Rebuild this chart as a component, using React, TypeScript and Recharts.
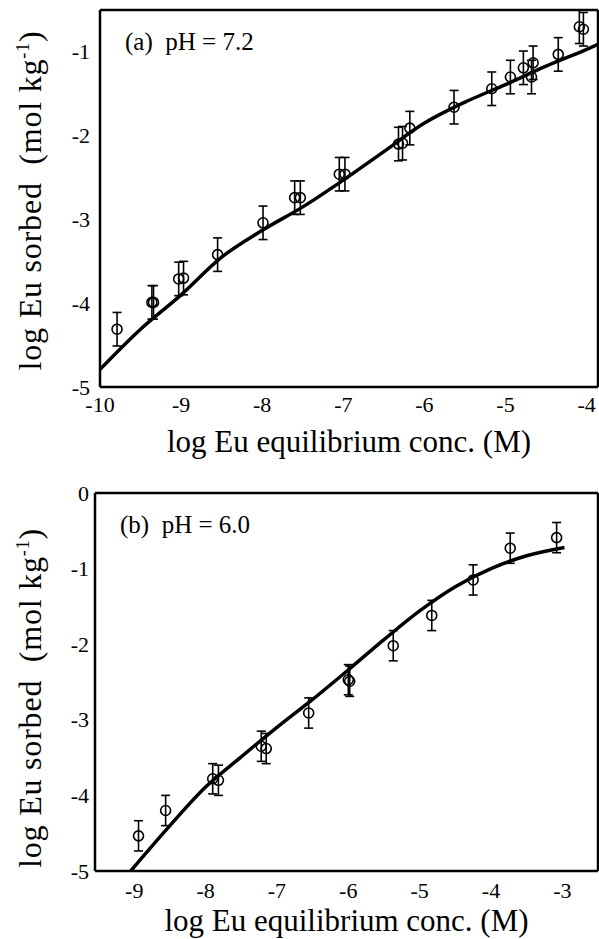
import { ComposedChart, Line, Scatter, ErrorBar, XAxis, YAxis, Label } from 'recharts';

const FONT = '"Liberation Serif", "Times New Roman", Times, serif';

// (a) pH = 7.2 — measured points
const concA = [-9.79, -9.36, -9.34, -9.03, -8.97, -8.55, -7.99, -7.6, -7.53, -7.05, -6.98, -6.32, -6.27, -6.18, -5.635, -5.17, -4.94, -4.78, -4.66, -4.68, -4.35, -4.09, -4.04];
const sorbedA = [-4.31, -3.99, -3.99, -3.71, -3.7, -3.42, -3.04, -2.74, -2.74, -2.46, -2.46, -2.1, -2.09, -1.91, -1.66, -1.44, -1.3, -1.19, -1.13, -1.3, -1.03, -0.7, -0.73];
const errA = [0.2, 0.2, 0.2, 0.2, 0.2, 0.2, 0.2, 0.2, 0.2, 0.2, 0.2, 0.2, 0.2, 0.2, 0.2, 0.2, 0.2, 0.2, 0.2, 0.2, 0.2, 0.2, 0.2];
// (a) model curve
const fitConcA = [-10, -9.5, -9, -8.5, -8, -7.5, -7, -6.5, -6, -5.5, -5, -4.5, -4, -3.86];
const fitSorbedA = [-4.79, -4.31, -3.9, -3.45, -3.13, -2.85, -2.53, -2.19, -1.85, -1.6, -1.39, -1.17, -0.97, -0.91];
const xTicksA = [-10, -9, -8, -7, -6, -5, -4];
const yTicksA = [-5, -4, -3, -2, -1];

// (b) pH = 6.0 — measured points
const concB = [-8.94, -8.56, -7.9, -7.82, -7.22, -7.15, -6.555, -6.0, -5.98, -5.37, -4.83, -4.25, -3.73, -3.08];
const sorbedB = [-4.535, -4.2, -3.78, -3.8, -3.35, -3.38, -2.91, -2.47, -2.49, -2.02, -1.62, -1.15, -0.73, -0.59];
const errB = [0.2, 0.2, 0.2, 0.2, 0.2, 0.2, 0.2, 0.2, 0.2, 0.2, 0.2, 0.2, 0.2, 0.2];
// (b) model curve
const fitConcB = [-9.05, -8.5, -8, -7.5, -7, -6.5, -6, -5.5, -5, -4.5, -4, -3.5, -2.97];
const fitSorbedB = [-5.0, -4.4, -3.89, -3.49, -3.1, -2.73, -2.34, -1.94, -1.56, -1.24, -1.0, -0.83, -0.72];
const xTicksB = [-9, -8, -7, -6, -5, -4, -3];
const yTicksB = [-5, -4, -3, -2, -1, 0];

const frameStyle = { stroke: '#000', strokeWidth: 2.5 };
const tickLineStyle = { stroke: '#000', strokeWidth: 2 };

type PanelProps = {
  conc: number[];
  sorbed: number[];
  err: number[];
  fitConc: number[];
  fitSorbed: number[];
  xDomain: [number, number];
  yDomain: [number, number];
  xTicks: number[];
  yTicks: number[];
  tag: string;
  height: number;
  top: number;
  yAxisWidth: number;
  xAxisHeight: number;
  xTickDy: number;
  yTickGap: number;
  titleDy: number;
  yTitleShift: number;
};

const ringShape = (props: any) => (
  <circle cx={props.cx} cy={props.cy} r={5} fill="none" stroke="#000" strokeWidth={1.6} />
);

function Panel(p: PanelProps) {
  const points = p.conc.map((x, i) => ({ x, y: p.sorbed[i], err: p.err[i] }));
  const fit = p.fitConc.map((x, i) => ({ x, y: p.fitSorbed[i] }));

  const xTick = (props: any) => (
    <text x={props.x} y={props.y + p.xTickDy} textAnchor="middle" fontFamily={FONT} fontSize={22} fill="#000">
      {props.payload.value}
    </text>
  );

  const yTick = (props: any) => (
    <text x={props.x} y={props.y + 7.5} textAnchor="end" fontFamily={FONT} fontSize={22} fill="#000">
      {props.payload.value}
    </text>
  );

  const xTitle = (props: any) => {
    const vb = props.viewBox;
    return (
      <text x={vb.x + vb.width / 2} y={vb.y + p.titleDy} textAnchor="middle" fontFamily={FONT} fontSize={31} fill="#000">
        log Eu equilibrium conc. (M)
      </text>
    );
  };

  // y title plus the panel tag in the upper-left corner of the plot
  const yTitle = (props: any) => {
    const vb = props.viewBox;
    const cy = vb.y + vb.height / 2 + p.yTitleShift;
    return (
      <g>
        <text
          transform={`translate(41, ${cy}) rotate(-90)`}
          textAnchor="middle"
          fontFamily={FONT}
          fontSize={32}
          letterSpacing={0.8}
          fill="#000"
        >
          log Eu sorbed{'\u00a0\u00a0'}(mol kg
          <tspan dy={-12} fontSize={18}>-1</tspan>
          <tspan dy={12}>)</tspan>
        </text>
        <text x={vb.x + vb.width + 25} y={vb.y + 40} fontFamily={FONT} fontSize={25} fill="#000">
          {p.tag}
        </text>
      </g>
    );
  };

  const common = { type: 'number' as const, allowDataOverflow: true };

  return (
    <ComposedChart width={599} height={p.height} margin={{ top: p.top, right: 1, bottom: 0, left: 0 }}>
      {/* labelled axes */}
      <XAxis
        {...common}
        xAxisId="main"
        dataKey="x"
        domain={p.xDomain}
        ticks={p.xTicks}
        height={p.xAxisHeight}
        tickSize={0}
        tickMargin={0}
        tick={xTick}
        axisLine={frameStyle}
        tickLine={false}
      >
        <Label content={xTitle} />
      </XAxis>
      <YAxis
        {...common}
        yAxisId="main"
        dataKey="y"
        domain={p.yDomain}
        ticks={p.yTicks}
        width={p.yAxisWidth}
        tickSize={0}
        tickMargin={p.yTickGap}
        tick={yTick}
        axisLine={frameStyle}
        tickLine={false}
      >
        <Label content={yTitle} />
      </YAxis>
      {/* inward tick marks + rest of the frame */}
      <XAxis {...common} xAxisId="inB" mirror orientation="bottom" domain={p.xDomain} ticks={p.xTicks} height={1} tickSize={9} tick={false} axisLine={false} tickLine={tickLineStyle} />
      <XAxis {...common} xAxisId="inT" mirror orientation="top" domain={p.xDomain} ticks={p.xTicks} height={1} tickSize={9} tick={false} axisLine={frameStyle} tickLine={tickLineStyle} />
      <YAxis {...common} yAxisId="inL" mirror orientation="left" domain={p.yDomain} ticks={p.yTicks} width={1} tickSize={9} tick={false} axisLine={false} tickLine={tickLineStyle} />
      <YAxis {...common} yAxisId="inR" mirror orientation="right" domain={p.yDomain} ticks={p.yTicks} width={1} tickSize={9} tick={false} axisLine={frameStyle} tickLine={tickLineStyle} />

      {/* hidden series so the tick-only axes have something attached */}
      <Line xAxisId="inB" yAxisId="inL" data={fit} dataKey="y" stroke="none" dot={false} activeDot={false} isAnimationActive={false} />
      <Line xAxisId="inT" yAxisId="inR" data={fit} dataKey="y" stroke="none" dot={false} activeDot={false} isAnimationActive={false} />

      <Line
        xAxisId="main"
        yAxisId="main"
        data={fit}
        dataKey="y"
        type="monotone"
        stroke="#000"
        strokeWidth={3.5}
        dot={false}
        activeDot={false}
        isAnimationActive={false}
      />
      <Scatter xAxisId="main" yAxisId="main" data={points} dataKey="y" shape={ringShape} isAnimationActive={false}>
        <ErrorBar dataKey="err" direction="y" width={4.5} stroke="#000" strokeWidth={1.6} isAnimationActive={false} />
      </Scatter>
    </ComposedChart>
  );
}

export default function App() {
  return (
    <div style={{ position: 'absolute', left: 0, top: 0, width: 599, height: 939, background: '#fff' }}>
      <Panel
        conc={concA}
        sorbed={sorbedA}
        err={errA}
        fitConc={fitConcA}
        fitSorbed={fitSorbedA}
        xDomain={[-10, -3.86]}
        yDomain={[-5, -0.5]}
        xTicks={xTicksA}
        yTicks={yTicksA}
        tag={'(a)\u00a0\u00a0pH = 7.2'}
        height={470}
        top={10}
        yAxisWidth={100}
        xAxisHeight={83}
        xTickDy={25}
        yTickGap={10}
        titleDy={65}
        yTitleShift={2}
      />
      <Panel
        conc={concB}
        sorbed={sorbedB}
        err={errB}
        fitConc={fitConcB}
        fitSorbed={fitSorbedB}
        xDomain={[-9.55, -2.5]}
        yDomain={[-5, 0]}
        xTicks={xTicksB}
        yTicks={yTicksB}
        tag={'(b)\u00a0\u00a0pH = 6.0'}
        height={469}
        top={23}
        yAxisWidth={95}
        xAxisHeight={68}
        xTickDy={27}
        yTickGap={6}
        titleDy={60}
        yTitleShift={16}
      />
    </div>
  );
}
